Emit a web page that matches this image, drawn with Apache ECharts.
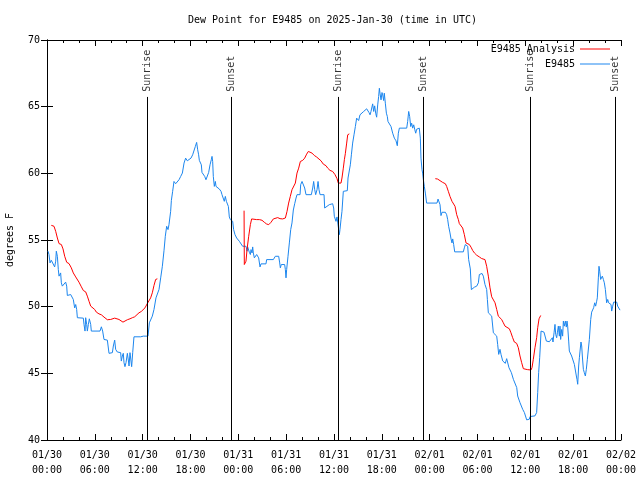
<!DOCTYPE html>
<html><head><meta charset="utf-8">
<script src="https://cdn.jsdelivr.net/npm/echarts@6/dist/echarts.min.js"></script>
<style>html,body{margin:0;padding:0;background:#fff}#c{width:640px;height:480px}</style>
</head><body><div id="c"></div>
<script>
const FONT = 'DejaVu Sans Mono';
const titleText = 'Dew Point for E9485 on 2025-Jan-30 (time in UTC)';
const yName = 'degrees F';
const xTickLabels = ['01/30\n00:00','01/30\n06:00','01/30\n12:00','01/30\n18:00','01/31\n00:00','01/31\n06:00','01/31\n12:00','01/31\n18:00','02/01\n00:00','02/01\n06:00','02/01\n12:00','02/01\n18:00','02/02\n00:00'];

// hours since 2025-01-30 00:00 UTC
const analysisHours = [0.54,0.88,1.09,1.30,1.51,1.80,2.01,2.22,2.47,2.76,3.05,3.30,3.60,3.81,4.01,4.31,4.56,4.85,5.06,5.27,5.48,5.69,5.98,6.19,6.52,6.82,7.15,7.57,7.99,8.49,8.74,9.03,9.24,9.53,9.78,10.08,10.41,10.70,11.00,11.25,11.54,11.83,12.04,12.29,12.59,12.84,13.00,13.21,13.42,13.63,13.84,
19.0,
24.72,24.75,24.88,24.96,25.09,25.30,25.51,25.67,25.80,26.30,26.64,26.97,27.26,27.55,27.81,28.10,28.39,28.64,28.94,29.23,29.56,29.90,30.11,30.31,30.52,30.73,30.94,31.15,31.36,31.57,31.78,32.07,32.32,32.57,32.78,32.99,33.24,33.53,33.83,34.08,34.37,34.66,35.00,35.21,35.50,35.83,36.13,36.38,36.54,36.88,37.00,37.17,37.30,37.42,37.59,37.72,37.92,
43.0,
48.71,49.00,49.30,49.63,49.97,50.13,50.34,50.55,50.80,51.01,51.18,51.39,51.60,51.72,51.93,52.14,52.35,52.56,52.77,52.98,53.19,53.40,53.61,53.77,53.90,54.23,54.52,54.94,55.15,55.36,55.57,55.78,55.99,56.20,56.41,56.61,56.82,57.03,57.24,57.45,57.66,58.00,58.20,58.41,58.62,58.91,59.12,59.33,59.54,59.75,59.96,60.25,60.50,60.71,60.84,61.00,61.21,61.42,61.55,61.72,61.93];
const analysisValues = [56.10,56.03,55.65,55.15,54.73,54.66,54.33,53.78,53.33,53.23,52.91,52.53,52.23,52.16,51.84,51.49,51.21,51.11,50.79,50.41,50.04,49.91,49.79,49.59,49.46,49.39,49.22,49.02,49.04,49.14,49.14,49.04,48.92,48.84,48.87,49.02,49.09,49.17,49.24,49.37,49.54,49.64,49.72,49.91,50.24,50.36,50.66,51.04,51.59,52.04,52.09,
null,
57.20,53.16,53.16,53.41,54.28,55.28,56.15,56.58,56.65,56.53,56.53,56.48,56.33,56.20,56.15,56.33,56.58,56.70,56.68,56.60,56.58,56.65,57.15,57.77,58.27,58.77,58.90,59.27,60.02,60.39,60.89,60.97,61.14,61.44,61.64,61.64,61.52,61.34,61.22,61.14,60.94,60.69,60.57,60.39,60.22,60.14,59.90,59.60,59.27,59.27,59.65,60.39,61.02,61.47,62.27,62.89,62.96,
null,
59.60,59.57,59.45,59.32,59.22,59.02,58.65,58.27,57.90,57.82,57.53,56.90,56.53,56.23,56.15,55.90,55.40,54.78,54.71,54.66,54.46,54.21,54.03,53.91,53.86,53.73,53.61,53.53,53.03,52.29,51.41,50.74,50.66,50.29,49.79,49.29,49.17,49.04,48.79,48.54,48.42,48.34,48.04,47.67,47.35,47.25,46.92,46.30,45.80,45.35,45.30,45.28,45.25,45.25,45.43,46.05,46.92,47.67,48.42,49.09,49.34];

const obsHours = [0.13,0.25,0.38,0.54,0.79,0.96,1.09,1.17,1.30,1.42,1.51,1.71,1.80,1.92,2.13,2.34,2.47,2.55,2.97,3.18,3.30,3.47,3.60,3.72,3.81,4.56,4.64,4.77,4.85,4.98,5.06,5.19,5.31,5.48,5.56,6.65,6.82,6.98,7.15,7.57,7.78,8.20,8.32,8.49,8.61,8.82,9.24,9.32,9.45,9.57,9.66,9.78,9.91,10.08,10.20,10.29,10.41,10.58,10.62,10.75,10.91,11.75,12.08,12.67,12.84,13.00,13.21,13.42,13.67,13.84,14.05,14.26,14.47,14.68,14.84,15.01,15.18,15.30,15.51,15.60,15.76,15.93,16.14,16.35,16.56,16.77,16.98,17.19,17.39,17.60,17.85,
18.06,18.27,18.48,18.61,18.77,18.90,19.02,19.11,19.23,19.36,19.44,19.61,19.78,19.94,20.15,20.28,20.45,20.61,20.70,20.78,20.86,20.99,21.12,21.20,21.32,21.45,21.62,21.83,21.95,22.12,22.24,22.37,22.50,22.62,22.75,22.87,23.00,23.12,23.29,23.41,23.58,23.79,23.96,24.13,24.34,24.54,24.96,25.09,25.17,25.26,25.38,25.51,25.59,25.72,25.80,25.88,26.01,26.13,26.30,26.43,26.55,26.72,26.84,27.47,27.55,28.39,28.64,28.81,29.06,29.19,29.27,29.39,29.81,29.90,29.98,30.06,30.23,30.40,30.57,30.73,30.90,31.07,31.24,31.36,31.74,31.82,31.99,32.20,32.32,32.49,33.16,33.33,33.45,33.58,33.70,33.87,34.00,34.12,34.25,34.75,34.83,
35.00,35.41,35.83,35.96,36.04,36.17,36.25,36.38,36.54,36.67,36.75,36.88,37.00,37.17,37.67,37.76,37.92,38.05,38.18,38.34,38.51,38.68,38.84,38.97,39.09,39.26,39.43,39.72,39.93,40.10,40.27,40.39,40.52,40.64,40.77,40.85,40.98,41.10,41.23,41.35,41.48,41.60,41.69,41.77,41.90,42.02,42.11,42.23,42.31,42.44,42.57,42.69,42.77,42.94,43.15,43.36,43.57,43.78,43.94,44.07,44.20,45.12,45.24,45.37,45.49,45.62,45.74,45.87,46.00,46.12,46.25,46.37,46.70,46.83,46.91,47.04,47.12,47.21,47.33,47.46,47.62,48.92,49.05,49.21,49.30,49.42,49.55,49.71,49.97,50.13,50.26,50.38,50.55,50.68,50.80,50.89,51.01,51.14,52.22,52.35,52.47,52.64,52.77,52.89,53.02,53.10,53.23,53.40,53.61,53.77,
53.90,54.11,54.23,54.40,54.57,54.73,54.94,55.15,55.24,55.36,55.57,55.78,55.90,55.99,56.20,56.41,56.53,56.66,56.82,56.95,57.08,57.16,57.37,57.49,57.66,57.83,57.95,58.08,58.25,58.41,58.50,58.71,58.92,59.04,59.21,59.33,59.54,59.67,59.88,60.00,60.17,60.38,60.50,60.59,61.21,61.42,61.55,61.67,61.80,61.88,61.97,62.05,62.18,62.34,62.51,62.64,62.76,62.89,63.01,63.14,63.26,63.39,63.47,63.60,63.72,63.81,63.93,64.02,64.14,64.27,64.35,64.43,64.56,64.68,64.77,64.89,65.02,65.14,65.23,65.31,65.44,65.52,65.65,65.81,66.02,66.15,66.31,66.40,66.48,66.57,66.69,66.78,66.86,66.98,67.07,67.15,67.28,67.40,67.53,67.65,67.78,67.90,68.03,68.20,68.32,68.45,68.57,68.70,68.82,68.95,69.03,69.16,69.24,69.33,69.45,69.58,69.66,69.79,69.91,70.04,70.12,70.20,70.33,70.45,70.62,70.75,70.83,70.96,71.08,71.25,71.46,71.58,71.71,71.88];
const obsValues = [54.16,53.91,53.28,53.48,53.53,52.98,53.41,54.16,53.78,52.78,52.29,52.53,51.79,51.54,51.59,51.84,51.54,50.84,50.91,50.84,50.54,49.91,50.16,49.79,49.17,49.14,48.67,48.17,49.17,48.67,48.17,48.67,49.09,48.67,48.17,48.17,48.49,48.17,47.54,47.49,46.50,46.55,47.05,47.49,46.80,46.60,46.55,45.92,46.30,46.50,45.80,45.50,45.80,46.50,46.00,45.55,46.55,46.55,45.50,46.55,47.74,47.74,47.79,47.79,48.79,48.84,49.29,49.79,50.66,50.79,51.29,52.16,53.03,54.23,55.28,56.03,55.78,56.15,57.15,57.97,58.65,59.39,59.22,59.32,59.52,59.77,60.02,60.77,61.14,60.94,61.02,
61.14,61.39,61.47,62.02,62.32,61.77,61.39,60.97,60.97,60.64,60.07,59.97,59.77,59.52,59.52,60.07,60.64,61.02,61.27,60.89,59.77,59.02,59.39,59.02,59.15,58.90,58.82,58.65,58.40,58.27,57.90,58.27,57.90,58.02,57.52,56.73,56.53,56.65,56.40,55.78,55.40,55.15,55.03,54.90,54.78,54.53,54.53,54.16,54.48,54.53,54.08,53.91,54.28,54.03,54.48,54.03,53.66,53.66,53.91,53.91,53.66,52.98,53.21,53.21,53.53,53.53,53.78,53.83,53.78,53.28,52.91,53.16,53.16,52.78,52.16,52.78,53.78,54.78,55.78,56.28,57.25,57.72,58.15,58.40,58.40,59.15,59.39,59.39,58.90,58.40,58.40,58.90,59.39,58.77,58.40,58.77,59.39,58.77,58.40,58.40,57.40,
57.40,57.65,57.72,57.40,56.78,56.73,56.40,56.73,56.65,55.40,55.78,56.53,57.15,58.65,58.70,59.65,59.65,60.64,61.39,62.27,62.89,63.51,64.14,64.21,63.96,64.39,64.51,64.64,64.71,64.84,64.89,64.56,64.39,64.64,64.76,65.21,64.64,65.06,64.51,64.21,65.13,65.76,66.38,66.01,65.51,66.06,65.88,65.46,66.01,65.26,64.51,64.26,63.89,63.89,63.51,63.01,62.64,62.44,62.07,63.01,63.39,63.39,63.89,64.64,64.26,63.51,63.76,63.39,63.64,63.31,63.01,63.31,63.39,62.64,61.14,60.27,60.02,59.52,59.02,58.52,57.77,57.77,58.07,58.07,57.65,56.83,57.08,57.13,57.08,56.90,56.53,56.03,55.53,55.08,54.78,55.08,54.66,54.11,54.11,54.41,54.66,54.78,54.53,53.53,53.41,52.83,51.28,51.28,51.46,51.54,
51.54,51.79,52.41,52.54,52.49,52.29,51.66,51.29,50.54,49.54,49.42,49.29,49.17,48.04,47.99,47.79,47.17,46.42,46.80,46.42,46.55,45.93,45.93,45.75,46.10,46.10,45.42,45.55,45.05,45.05,44.55,44.43,43.93,43.30,43.25,42.80,42.68,42.30,42.06,41.93,41.51,41.51,41.56,41.76,41.81,42.06,43.55,45.05,46.17,47.05,48.17,48.29,48.04,48.09,47.99,47.42,47.30,47.49,47.37,47.49,47.42,47.67,47.35,48.04,48.67,47.92,47.67,48.04,48.54,47.79,48.54,47.54,48.29,47.79,48.92,48.54,48.92,48.47,48.92,48.54,47.42,46.67,46.55,46.30,46.30,45.67,45.60,44.80,44.55,44.18,45.55,46.17,46.67,47.35,47.05,46.30,45.30,45.05,44.80,45.30,46.05,46.17,47.54,49.04,49.59,49.74,49.92,50.29,50.04,50.41,50.66,52.16,53.03,52.66,52.04,51.91,52.29,52.04,51.79,51.29,50.79,50.29,50.54,50.29,50.29,50.16,49.67,50.04,50.34,50.29,50.34,50.04,49.92,49.74];

const sunHours = [12.58, 23.12, 36.54, 47.20, 60.63, 71.33];
const sunNames = ['Sunrise','Sunset','Sunrise','Sunset','Sunrise','Sunset'];
const sunLineBottom = 40, sunLineTop = 65.73, sunLabelBase = 66.11;

const zip = (a, b) => a.map((h, i) => [h, b[i]]);
const analysisData = zip(analysisHours, analysisValues);
const obsData = zip(obsHours, obsValues);
const sunLabelData = sunHours.map((h, i) => [h, sunLabelBase, sunNames[i]]);
const sunLines = sunHours.map(h => [{coord: [h, sunLineBottom]}, {coord: [h, sunLineTop]}]);

const txt = {fontFamily: FONT, fontSize: 10, color: '#000'};
const axLine = {show: true, lineStyle: {color: '#000', width: 1}};

const chart = echarts.init(document.getElementById('c'), null, {renderer: 'canvas'});
chart.setOption({
  animation: false,
  backgroundColor: '#fff',
  title: {text: titleText, left: 188, top: 15, padding: 0,
    textStyle: Object.assign({fontWeight: 'normal'}, txt)},
  legend: [
    {data: ['E9485 Analysis'], right: 30, top: 44, align: 'right', orient: 'horizontal', padding: 0,
     icon: 'rect', itemWidth: 30, itemHeight: 1, textStyle: txt, selectedMode: false},
    {data: ['E9485'], right: 30, top: 59, align: 'right', orient: 'horizontal', padding: 0,
     icon: 'rect', itemWidth: 30, itemHeight: 1, textStyle: txt, selectedMode: false}
  ],
  grid: {left: 47, right: 19, top: 40, bottom: 40, containLabel: false, outerBoundsMode: 'none'},
  xAxis: [
    {type: 'value', min: 0, max: 72, interval: 6, position: 'bottom',
     axisLine: axLine, splitLine: {show: false},
     axisTick: {show: true, inside: true, length: 6, lineStyle: {color: '#000'}},
     minorTick: {show: true, splitNumber: 3, length: 3, lineStyle: {color: '#000'}},
     axisLabel: Object.assign({margin: 8, lineHeight: 15, formatter: v => xTickLabels[Math.round(v / 6)]}, txt)},
    {type: 'value', min: 0, max: 72, interval: 6, position: 'top',
     axisLine: axLine, splitLine: {show: false},
     axisTick: {show: true, inside: true, length: 6, lineStyle: {color: '#000'}},
     minorTick: {show: true, splitNumber: 3, length: 3, lineStyle: {color: '#000'}},
     axisLabel: {show: false}}
  ],
  yAxis: [
    {type: 'value', min: 40, max: 70, interval: 5, position: 'left',
     axisLine: axLine, splitLine: {show: false},
     axisTick: {show: true, inside: true, length: 6, lineStyle: {color: '#000'}},
     axisLabel: Object.assign({margin: 7}, txt),
     name: yName, nameLocation: 'middle', nameGap: 32, nameRotate: 90, nameTextStyle: txt},
    {type: 'value', min: 40, max: 70, interval: 5, position: 'right',
     axisLine: axLine, splitLine: {show: false},
     axisTick: {show: true, inside: true, length: 6, lineStyle: {color: '#000'}},
     axisLabel: {show: false}}
  ],
  series: [
    {name: 'E9485 Analysis', type: 'line', data: analysisData, showSymbol: false, symbol: 'none',
     connectNulls: false, color: '#ff0000', lineStyle: {color: '#ff0000', width: 1}, z: 3},
    {name: 'E9485', type: 'line', data: obsData, showSymbol: false, symbol: 'none',
     color: '#1c86ee', lineStyle: {color: '#1c86ee', width: 1}, z: 2},
    {name: 'sun', type: 'scatter', data: sunLabelData, symbolSize: 0, silent: true, z: 4,
     label: {show: true, position: 'inside', rotate: 90, align: 'left', verticalAlign: 'middle',
       formatter: p => p.data[2], fontFamily: FONT, fontSize: 10, color: '#000'},
     markLine: {silent: true, symbol: 'none', label: {show: false},
       lineStyle: {color: '#000', width: 1, type: 'solid'}, data: sunLines}}
  ]
});
</script>
</body></html>
